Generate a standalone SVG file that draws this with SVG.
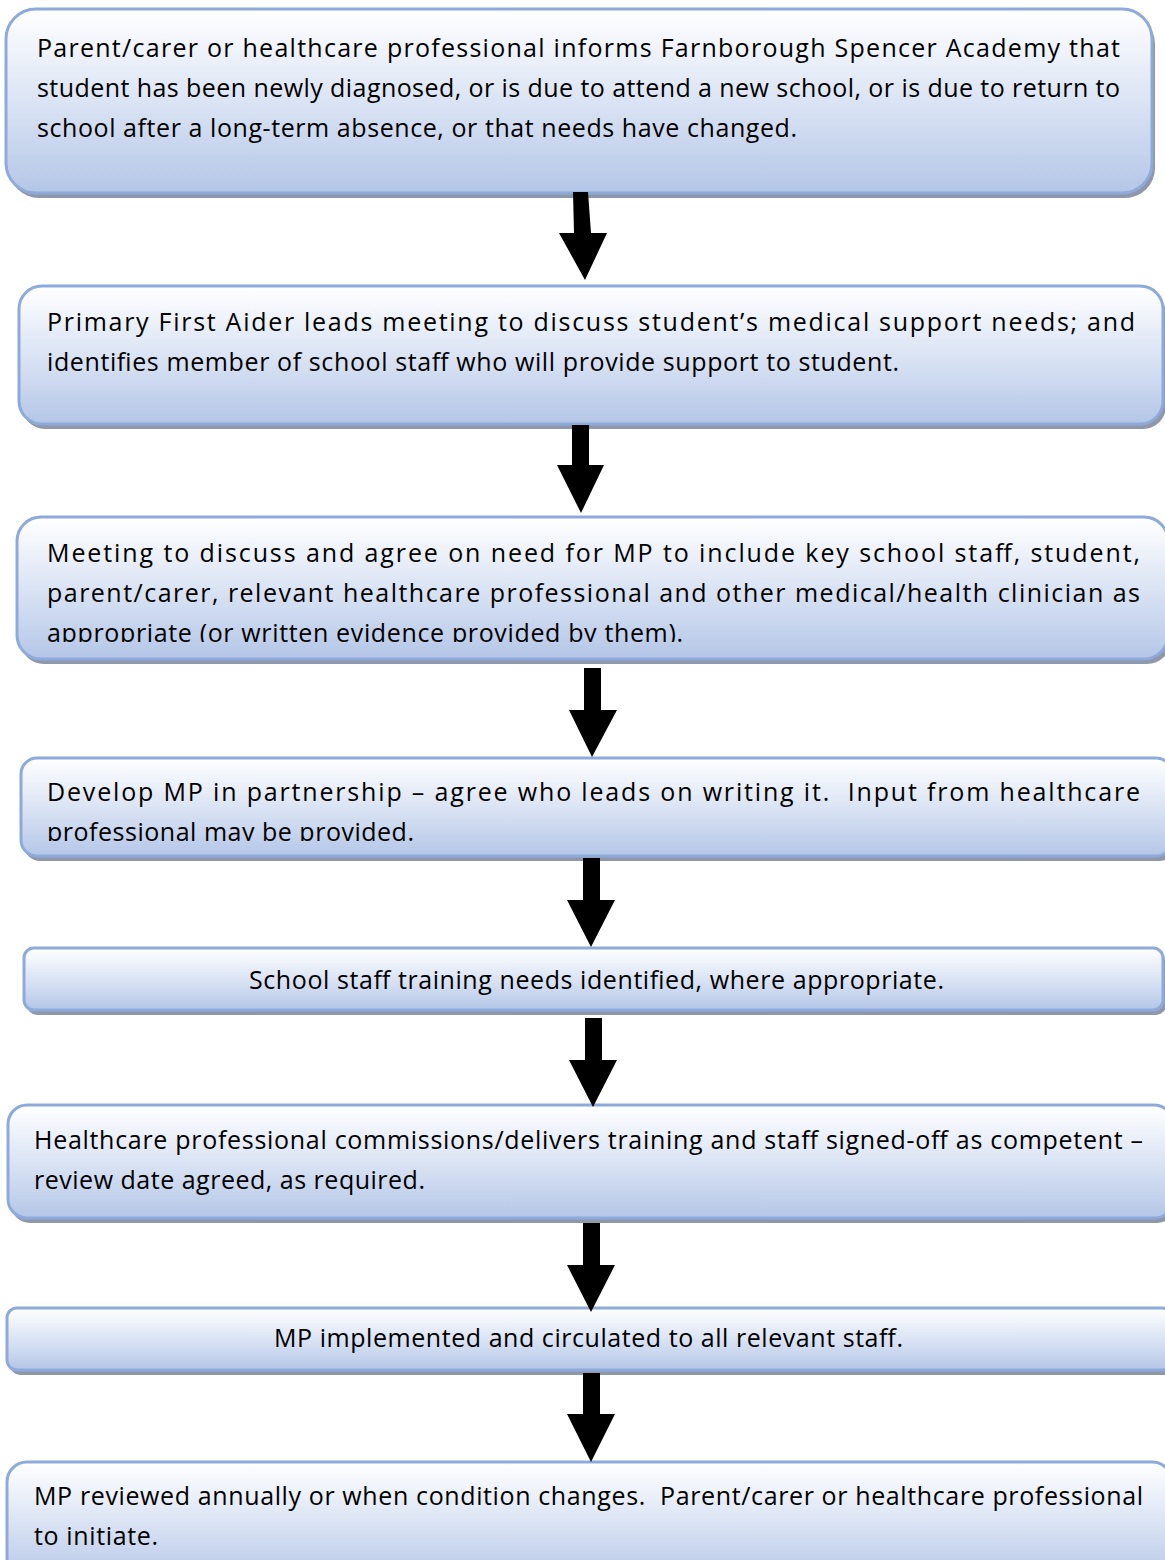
<svg xmlns="http://www.w3.org/2000/svg" width="1165" height="1560" viewBox="0 0 1165 1560">
<defs>
<linearGradient id="g" x1="0" y1="0" x2="0" y2="1">
<stop offset="0" stop-color="#ffffff"/>
<stop offset="0.5" stop-color="#dbe4f4"/>
<stop offset="1" stop-color="#b4c6e7"/>
</linearGradient>
<clipPath id="c3"><rect x="17" y="517" width="1160" height="125"/></clipPath>
<clipPath id="c4"><rect x="21" y="758" width="1160" height="83"/></clipPath>
</defs>
<style>
.sh{fill:#8f98ab}
.bx{fill:url(#g);stroke:#8eaadb;stroke-width:3}
text{font-family:"Open Sans","Noto Sans","Liberation Sans",sans-serif;font-size:25px;fill:#000;white-space:pre}
.ar{fill:#000}
</style>
<rect width="1165" height="1560" fill="#fff"/>
<g id="n1">
<rect class="sh" x="9" y="14" width="1146" height="184" rx="30"/>
<rect class="bx" x="6" y="9" width="1146" height="184" rx="30"/>
<text x="37" y="57" textLength="1083" lengthAdjust="spacing">Parent/carer or healthcare professional informs Farnborough Spencer Academy that</text>
<text x="37" y="97" textLength="1083" lengthAdjust="spacing">student has been newly diagnosed, or is due to attend a new school, or is due to return to</text>
<text x="37" y="137" textLength="760" lengthAdjust="spacing">school after a long-term absence, or that needs have changed.</text>
</g>
<g id="n2">
<rect class="sh" x="22" y="291" width="1144" height="138" rx="23"/>
<rect class="bx" x="19" y="286" width="1144" height="138" rx="23"/>
<text x="47" y="331" textLength="1088" lengthAdjust="spacing">Primary First Aider leads meeting to discuss student’s medical support needs; and</text>
<text x="47" y="371" textLength="852" lengthAdjust="spacing">identifies member of school staff who will provide support to student.</text>
</g>
<g id="n3">
<rect class="sh" x="20" y="522" width="1151" height="142" rx="24"/>
<rect class="bx" x="17" y="517" width="1151" height="142" rx="24"/>
<g clip-path="url(#c3)">
<text x="47" y="562" textLength="1093" lengthAdjust="spacing">Meeting to discuss and agree on need for MP to include key school staff, student,</text>
<text x="47" y="602" textLength="1093" lengthAdjust="spacing">parent/carer, relevant healthcare professional and other medical/health clinician as</text>
<text x="47" y="642" textLength="636" lengthAdjust="spacing">appropriate (or written evidence provided by them).</text>
</g>
</g>
<g id="n4">
<rect class="sh" x="24" y="763" width="1151" height="98" rx="16"/>
<rect class="bx" x="21" y="758" width="1151" height="98" rx="16"/>
<g clip-path="url(#c4)">
<text x="47" y="801" textLength="1093" lengthAdjust="spacing">Develop MP in partnership – agree who leads on writing it.  Input from healthcare</text>
<text x="47" y="841" textLength="367" lengthAdjust="spacing">professional may be provided.</text>
</g>
</g>
<g id="n5">
<rect class="sh" x="27" y="953" width="1139" height="62" rx="10"/>
<rect class="bx" x="24" y="948" width="1139" height="62" rx="10"/>
<text x="249" y="989" textLength="695" lengthAdjust="spacing">School staff training needs identified, where appropriate.</text>
</g>
<g id="n6">
<rect class="sh" x="11" y="1110" width="1165" height="113" rx="19"/>
<rect class="bx" x="8" y="1105" width="1165" height="113" rx="19"/>
<text x="34" y="1149" textLength="1109" lengthAdjust="spacing">Healthcare professional commissions/delivers training and staff signed-off as competent –</text>
<text x="34" y="1189" textLength="391" lengthAdjust="spacing">review date agreed, as required.</text>
</g>
<g id="n7">
<rect class="sh" x="10" y="1313" width="1165" height="62" rx="10"/>
<rect class="bx" x="7" y="1308" width="1165" height="62" rx="10"/>
<text x="274" y="1347" textLength="629" lengthAdjust="spacing">MP implemented and circulated to all relevant staff.</text>
</g>
<g id="n8">
<rect class="sh" x="10" y="1467" width="1165" height="120" rx="20"/>
<rect class="bx" x="7" y="1462" width="1165" height="120" rx="20"/>
<text x="34" y="1505" textLength="1109" lengthAdjust="spacing">MP reviewed annually or when condition changes.  Parent/carer or healthcare professional</text>
<text x="34" y="1545" textLength="124" lengthAdjust="spacing">to initiate.</text>
</g>
<g id="connectors">
<polygon class="ar" points="573,192 588,192 591,233 607,233 585,280 559,233 574,233"/>
<polygon class="ar" points="572,425 589,425 589,465 604,465 581,513 557,465 572,465"/>
<polygon class="ar" points="584,668 601,668 601,710 617,710 592,757 569,710 584,710"/>
<polygon class="ar" points="583,858 600,858 600,900 615,900 591,947 567,900 583,900"/>
<polygon class="ar" points="585,1018 602,1018 602,1060 617,1060 593,1107 569,1060 585,1060"/>
<polygon class="ar" points="583,1223 600,1223 600,1265 615,1265 591,1312 567,1265 583,1265"/>
<polygon class="ar" points="583,1373 600,1373 600,1414 615,1414 591,1462 567,1414 583,1414"/>
</g>
</svg>
